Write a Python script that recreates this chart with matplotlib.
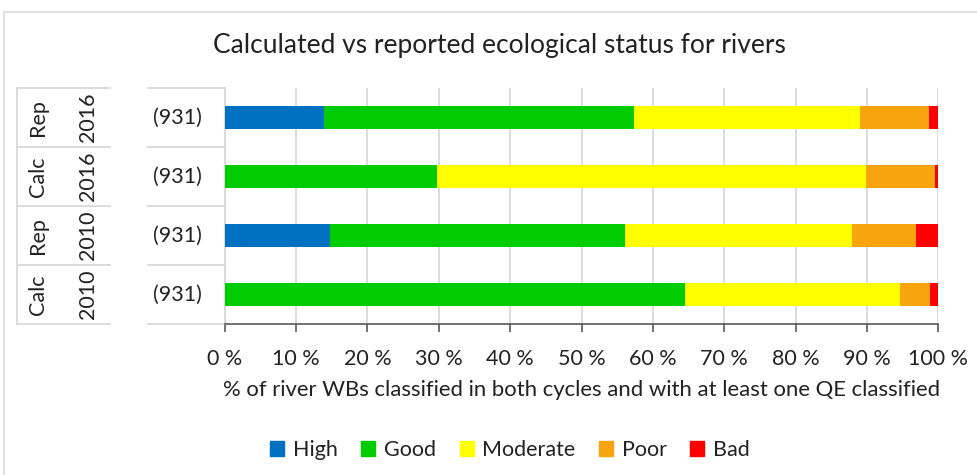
import matplotlib
matplotlib.use("Agg")
import matplotlib.pyplot as plt
from matplotlib.transforms import blended_transform_factory
from matplotlib.patches import Rectangle, Patch
from matplotlib.lines import Line2D

# ---- data ----
groups = ["Calc", "Rep", "Calc", "Rep"]          # bottom -> top
years = ["2010", "2010", "2016", "2016"]
counts = ["(931)", "(931)", "(931)", "(931)"]
status = ["High", "Good", "Moderate", "Poor", "Bad"]
high = [0.0, 14.7, 0.0, 13.9]
good = [64.5, 41.4, 29.8, 43.4]
moderate = [30.1, 31.8, 60.0, 31.7]
poor = [4.3, 9.0, 9.7, 9.7]
bad = [1.1, 3.1, 0.5, 1.3]
series = [high, good, moderate, poor, bad]
colors = ["#0070C0", "#00CC00", "#FFFF00", "#F7A40F", "#FF0000"]
xticks = list(range(0, 101, 10))
xticklabels = [f"{t} %" for t in xticks]

FONT = ["Lato", "DejaVu Sans"]
plt.rcParams["font.family"] = FONT
FS = 15.5

W, H = 977, 475
fig = plt.figure(figsize=(W / 100, H / 100), dpi=100)

def fx(px):
    return px / W

def fy(py):
    return 1 - py / H

# outer border
fig.patches.append(Rectangle((fx(4), fy(500)), fx(1000) - fx(4), fy(12) - fy(500),
                             transform=fig.transFigure, fill=False,
                             edgecolor="#D9D9D9", linewidth=1.2))

ax = fig.add_axes([fx(224.7), fy(324), fx(938.3) - fx(224.7), fy(88) - fy(324)])

ypos = list(range(len(groups)))
left = [0.0] * len(groups)
for name, vals, c in zip(status, series, colors):
    ax.barh(ypos, vals, left=left, height=0.39, color=c, label=name, zorder=3)
    left = [l + v for l, v in zip(left, vals)]

ax.set_xlim(0, 100)
ax.set_ylim(-0.5, len(groups) - 0.5)
ax.set_xticks(xticks)
ax.set_xticklabels(xticklabels, fontsize=FS, color="#222222")
ax.set_yticks([])
ax.grid(axis="x", color="#D9D9D9", linewidth=1.3, zorder=0)
for s in ["top", "right"]:
    ax.spines[s].set_visible(False)
ax.spines["left"].set_color("#D9D9D9")
ax.spines["left"].set_linewidth(1.3)
ax.spines["bottom"].set_color("#595959")
ax.spines["bottom"].set_linewidth(1.2)
ax.tick_params(axis="x", length=6, width=1.2, color="#595959", pad=12)
ax.tick_params(axis="y", length=0)
ax.set_xlabel("% of river WBs classified in both cycles and with at least one QE classified",
              fontsize=15.9, color="#222222", labelpad=8)

# category labels (multi-level)
tr = blended_transform_factory(fig.transFigure, ax.transData)
for i in ypos:
    ax.text(fx(38), i, groups[i], rotation=90, ha="center", va="center",
            fontsize=FS, color="#222222", transform=tr, clip_on=False)
    ax.text(fx(88), i, years[i], rotation=90, ha="center", va="center",
            fontsize=FS, color="#222222", transform=tr, clip_on=False)
    ax.text(fx(177), i, counts[i], ha="center", va="center",
            fontsize=FS, color="#222222", transform=tr, clip_on=False)

lc = "#D9D9D9"
for b in [k - 0.5 for k in range(len(groups) + 1)]:
    ax.add_line(Line2D([fx(17), fx(110)], [b, b], transform=tr, color=lc,
                       linewidth=1.3, clip_on=False))
    ax.add_line(Line2D([fx(148), fx(224.7)], [b, b], transform=tr, color=lc,
                       linewidth=1.3, clip_on=False))
ax.add_line(Line2D([fx(17), fx(17)], [-0.5, len(groups) - 0.5], transform=tr,
                   color=lc, linewidth=1.3, clip_on=False))

fig.text(fx(499), fy(45), "Calculated vs reported ecological status for rivers",
         ha="center", va="center", fontsize=19, color="#222222")

handles = [Patch(facecolor=c, edgecolor=c, label=n) for n, c in zip(status, colors)]
fig.legend(handles=handles, loc="center", bbox_to_anchor=(fx(510), fy(450)),
           ncol=5, frameon=False, fontsize=FS, handlelength=0.65, handleheight=0.65,
           handletextpad=0.4, columnspacing=1.1, labelcolor="#222222")

fig.savefig("out.png", dpi=100)
